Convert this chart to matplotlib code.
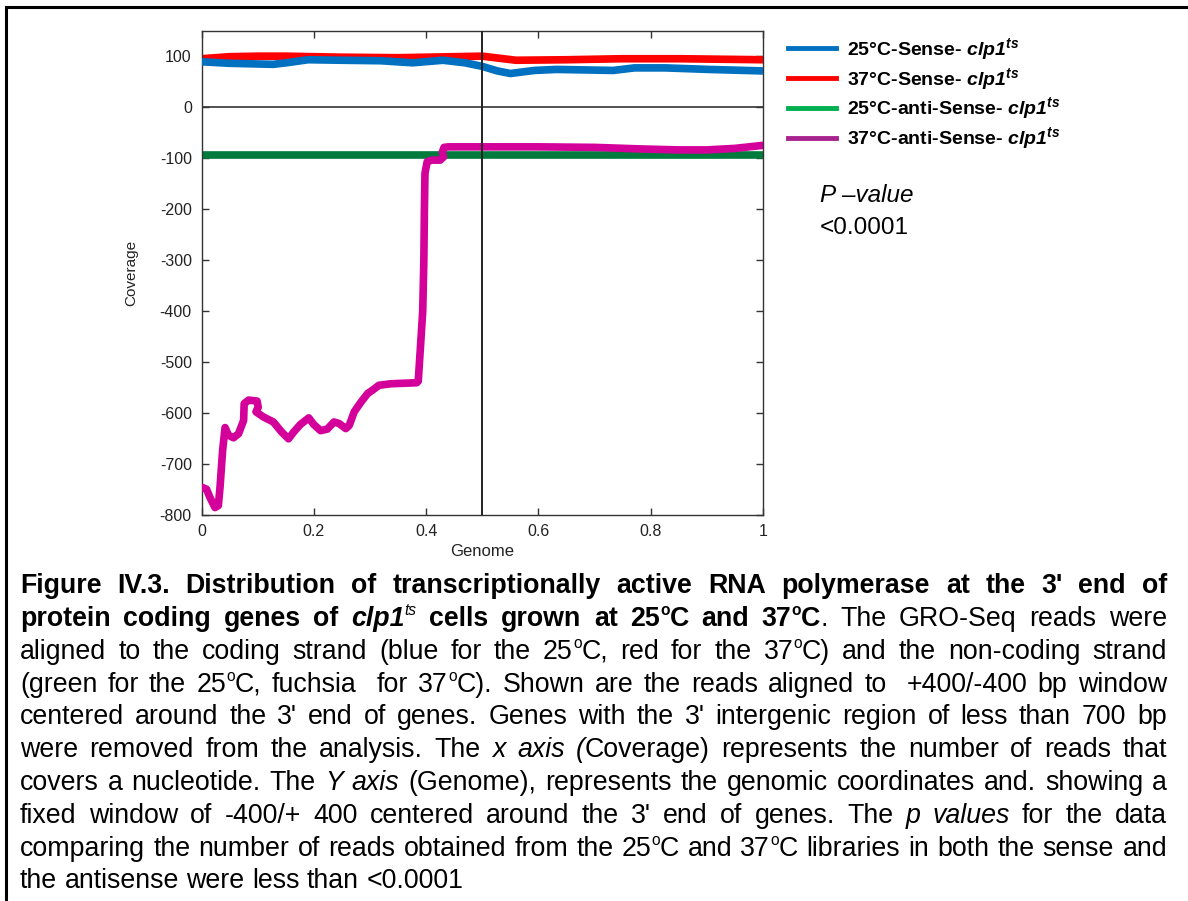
import matplotlib
matplotlib.use("Agg")
import matplotlib.pyplot as plt
from matplotlib.lines import Line2D

plt.rcParams['font.family'] = ['Liberation Sans', 'DejaVu Sans']
plt.rcParams['mathtext.fontset'] = 'custom'
plt.rcParams['mathtext.rm'] = 'Liberation Sans:bold:italic'
plt.rcParams['mathtext.it'] = 'Liberation Sans:bold:italic'
plt.rcParams['mathtext.bf'] = 'Liberation Sans:bold'
plt.rcParams['axes.unicode_minus'] = False

# ---------------- data ----------------
blue_x = [0, 0.05, 0.128, 0.151, 0.19, 0.25, 0.32, 0.376, 0.43, 0.469, 0.5, 0.527,
          0.55, 0.593, 0.632, 0.733, 0.771, 0.826, 0.903, 1.0]
blue_y = [89, 86, 84, 87, 93, 92, 91, 87, 92, 87, 80, 71, 66, 72, 74, 72, 77, 77, 74, 71]

red_x = [0, 0.05, 0.1, 0.15, 0.25, 0.35, 0.45, 0.5, 0.53, 0.56, 0.65, 0.75, 0.85, 1.0]
red_y = [95, 99, 100, 100, 98, 97, 99, 100, 96, 92, 93, 95, 95, 93]

green_x = [0, 0.5, 1.0]
green_y = [-93, -93, -93]

mag_x = [0, 0.009, 0.015, 0.024, 0.03, 0.033, 0.0376, 0.042, 0.048, 0.057, 0.066,
         0.075, 0.076, 0.084, 0.099, 0.101, 0.097, 0.11, 0.128, 0.143, 0.155, 0.164,
         0.176, 0.191, 0.2, 0.212, 0.224, 0.236, 0.245, 0.257, 0.263, 0.272, 0.284,
         0.296, 0.304, 0.316, 0.337, 0.383, 0.386, 0.390, 0.394, 0.396, 0.397, 0.398,
         0.400, 0.402, 0.410, 0.425, 0.431, 0.429, 0.432, 0.44, 0.5, 0.6, 0.7, 0.78,
         0.85, 0.9, 0.95, 1.0]
mag_y = [-746, -750, -766, -786, -782, -746, -674, -629, -644, -649, -641,
         -615, -582, -575, -577, -589, -598, -608, -618, -638, -651, -638,
         -623, -610, -623, -635, -632, -618, -621, -631, -625, -598, -579,
         -562, -556, -546, -543, -541, -538, -470, -400, -300, -200, -130,
         -118, -107, -104, -104, -98, -88, -79, -78, -78, -78, -79, -82,
         -84, -84, -81, -75]

x_ticks = [0, 0.2, 0.4, 0.6, 0.8, 1.0]
x_tick_labels = ["0", "0.2", "0.4", "0.6", "0.8", "1"]
y_ticks = [100, 0, -100, -200, -300, -400, -500, -600, -700, -800]
y_tick_labels = ["100", "0", "-100", "-200", "-300", "-400", "-500", "-600", "-700", "-800"]

series_labels = [
    "25\u00b0C-Sense- $\\mathit{clp1}^{\\mathit{ts}}$",
    "37\u00b0C-Sense- $\\mathit{clp1}^{\\mathit{ts}}$",
    "25\u00b0C-anti-Sense- $\\mathit{clp1}^{\\mathit{ts}}$",
    "37\u00b0C-anti-Sense- $\\mathit{clp1}^{\\mathit{ts}}$",
]
line_colors = ["#0070C0", "#FF0000", "#007A3D", "#D4009A"]
legend_colors = ["#0070C0", "#FF0000", "#00B050", "#A8238F"]

# caption runs: (text, style, superscript?)
caption_lines = [
    [("Figure IV.3. Distribution of transcriptionally active RNA polymerase at the 3' end of", 'b')],
    [("protein coding genes of ", 'b'), ("clp1", 'bi'), ("ts", 'i', True),
     (" cells grown at 25", 'b'), ("o", 'b', True), ("C and 37", 'b'), ("o", 'b', True),
     ("C", 'b'), (". The GRO-Seq reads were", 'n')],
    [("aligned to the coding strand (blue for the 25", 'n'), ("o", 'n', True),
     ("C, red for the 37", 'n'), ("o", 'n', True), ("C) and the non-coding strand", 'n')],
    [("(green for the 25", 'n'), ("o", 'n', True), ("C, fuchsia  for 37", 'n'), ("o", 'n', True),
     ("C). Shown are the reads aligned to  +400/-400 bp window", 'n')],
    [("centered around the 3' end of genes. Genes with the 3' intergenic region of less than 700 bp", 'n')],
    [("were removed from the analysis. The ", 'n'), ("x axis (", 'i'),
     ("Coverage) represents the number of reads that", 'n')],
    [("covers a nucleotide. The ", 'n'), ("Y axis", 'i'),
     (" (Genome), represents the genomic coordinates and. showing a", 'n')],
    [("fixed window of -400/+ 400 centered around the 3' end of genes. The ", 'n'),
     ("p values", 'i'), (" for the data", 'n')],
    [("comparing the number of reads obtained from the 25", 'n'), ("o", 'n', True),
     ("C and 37", 'n'), ("o", 'n', True), ("C libraries in both the sense and", 'n')],
    [("the antisense were less than <0.0001", 'n')],
]

# ---------------- figure ----------------
W, H = 1188, 901
fig = plt.figure(figsize=(W / 100, H / 100), dpi=100)
fig.patch.set_facecolor('white')

ax_l, ax_r, ax_t, ax_b = 201.5, 763, 30.7, 514.7
ax = fig.add_axes([ax_l / W, 1 - ax_b / H, (ax_r - ax_l) / W, (ax_b - ax_t) / H])

ax.plot(green_x, green_y, color=line_colors[2], lw=5.5, solid_capstyle='butt', zorder=2)
ax.plot(mag_x, mag_y, color=line_colors[3], lw=5.5, solid_joinstyle='round',
        solid_capstyle='round', zorder=3)
ax.plot(red_x, red_y, color=line_colors[1], lw=5.5, solid_capstyle='butt', zorder=2)
ax.plot(blue_x, blue_y, color=line_colors[0], lw=5.5, solid_capstyle='butt', zorder=3)

ax.axhline(0, color='#333333', lw=1.2, zorder=1)
ax.axvline(0.5, color='#222222', lw=1.4, zorder=5)

ax.set_xlim(0, 1)
ax.set_ylim(-800, 150)
ax.set_xticks(x_ticks)
ax.set_xticklabels(x_tick_labels)
ax.set_yticks(y_ticks)
ax.set_yticklabels(y_tick_labels)
ax.tick_params(direction='in', length=5, width=1, color='#333333', top=True, right=True,
               labelsize=11.5, labelcolor='#222222', pad=7)
for s in ax.spines.values():
    s.set_color('#333333')
    s.set_linewidth(1.0)

ax.set_ylabel("Coverage", fontsize=11, color='#222222')
ax.yaxis.set_label_coords((138 - ax_l) / (ax_r - ax_l), 0.5)
ax.set_xlabel("Genome", fontsize=12, color='#222222')
ax.xaxis.set_label_coords(0.5, -(544 - ax_b) / (ax_b - ax_t))

handles = [Line2D([], [], color=c, lw=3.5) for c in legend_colors]
ax.legend(handles, series_labels, loc='upper left',
          bbox_to_anchor=(788 / W, 1 - 36 / H), bbox_transform=fig.transFigure,
          frameon=False, prop={'weight': 'bold', 'size': 14},
          handlelength=2.45, handletextpad=0.6, labelspacing=0.2,
          borderpad=0, borderaxespad=0)

fig.text(820 / W, 1 - 201.5 / H, "P \u2013value", fontsize=17.5, style='italic',
         va='baseline', ha='left')
fig.text(820 / W, 1 - 234 / H, "<0.0001", fontsize=17.5, va='baseline', ha='left')

# border (top and left)
fig.add_artist(Line2D([6 / W, 1], [1 - 7 / H, 1 - 7 / H], transform=fig.transFigure,
                      color='black', lw=2.2))
fig.add_artist(Line2D([6 / W, 6 / W], [0, 1 - 7 / H], transform=fig.transFigure,
                      color='black', lw=2.2))

# ---------------- caption (justified rich text) ----------------
renderer = fig.canvas.get_renderer()
STY = {'n': ('normal', 'normal'), 'b': ('bold', 'normal'),
       'i': ('normal', 'italic'), 'bi': ('bold', 'italic')}
SUP_SCALE = 0.58
SUP_RAISE = 0.40


def measure(s, sty, fs):
    w, st = STY[sty]
    t = fig.text(0, 0, s, fontsize=fs, fontweight=w, fontstyle=st)
    width = t.get_window_extent(renderer).width
    t.remove()
    return width


fs_cap = 10 * 444 / measure("the antisense were less than <0.0001", 'n', 10)
x_left, x_right = 20, 1167
base0, dy = 593.3, 32.8


def draw_line(runs, y_px, justify):
    words = [[]]
    for run in runs:
        text, sty = run[0], run[1]
        sup = len(run) > 2 and run[2]
        parts = text.split(' ')
        for k, p in enumerate(parts):
            if k > 0:
                words.append([])
            if p:
                words[-1].append((p, sty, sup))
    widths = [[measure(p, s, fs_cap * (SUP_SCALE if sp else 1)) for p, s, sp in wd]
              for wd in words]
    total = sum(sum(ws) for ws in widths)
    if justify and len(words) > 1:
        gap = (x_right - x_left - total) / (len(words) - 1)
    else:
        gap = fs_cap * 100 / 72 * 0.278
    x = x_left
    em = fs_cap * 100 / 72
    for wd, ws in zip(words, widths):
        for (p, s, sp), w in zip(wd, ws):
            weight, style = STY[s]
            fs = fs_cap * (SUP_SCALE if sp else 1)
            yy = y_px - (SUP_RAISE * em if sp else 0)
            fig.text(x / W, 1 - yy / H, p, fontsize=fs, fontweight=weight,
                     fontstyle=style, va='baseline', ha='left', color='black')
            x += w
        x += gap


for i, runs in enumerate(caption_lines):
    draw_line(runs, base0 + i * dy, justify=(i < len(caption_lines) - 1))

fig.savefig("out.png", dpi=100, facecolor='white')
